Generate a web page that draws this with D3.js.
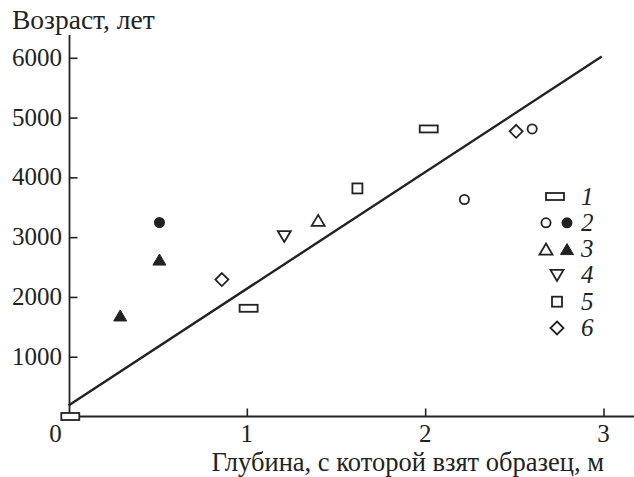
<!DOCTYPE html>
<html><head><meta charset="utf-8">
<script src="https://cdn.jsdelivr.net/npm/d3@7"></script>
<style>body{margin:0;background:#fff}text{font-family:"Liberation Serif","Times New Roman",serif;fill:#222}</style>
</head><body>
<svg id="c" width="634" height="477"></svg>
<script>
// data
const xTicks = [1, 2, 3];
const yTicks = [1000, 2000, 3000, 4000, 5000, 6000];
const series1 = [[0.01, 0], [1.01, 1810], [2.02, 4810]];          // rectangles
const series2open = [[2.22, 3630], [2.60, 4810]];                  // open circles
const series2fill = [[0.51, 3245]];                                 // filled circle
const series3open = [[1.40, 3280]];                                 // open triangle
const series3fill = [[0.51, 2625], [0.29, 1690]];                   // filled triangles
const series4 = [[1.21, 3010]];                                     // inverted triangle
const series5 = [[1.62, 3815]];                                     // squares
const series6 = [[0.86, 2290], [2.51, 4770]];                       // diamonds
const trend = [[0, 185], [2.99, 6020]];
const legendLabels = ["1", "2", "3", "4", "5", "6"];
const xTitle = "Глубина, с которой взят образец, м";
const yTitle = "Возраст, лет";

const svg = d3.select("#c");
const col = "#222";
const x = d3.scaleLinear().domain([0, 3]).range([68.5, 603.5]);
const y = d3.scaleLinear().domain([0, 6000]).range([416.5, 57.8]);

// axes
const gx = svg.append("g").attr("transform", `translate(0,${y(0)})`)
  .call(d3.axisTop(x).tickValues(xTicks).tickSize(8).tickFormat(""));
gx.select(".domain").remove();
gx.selectAll("line").attr("stroke", col).attr("stroke-width", 1.6);
svg.append("line").attr("x1", x(0)).attr("x2", 634).attr("y1", y(0)).attr("y2", y(0))
  .attr("stroke", col).attr("stroke-width", 1.8);
svg.selectAll(".xl").data(xTicks).enter().append("text")
  .attr("x", d => x(d)).attr("y", 442).attr("text-anchor", "middle")
  .attr("font-size", 25).text(d => d);
svg.append("text").attr("x", x(0) - 13).attr("y", 442).attr("text-anchor", "middle")
  .attr("font-size", 25).text("0");

const gy = svg.append("g").attr("transform", `translate(${x(0) + 1},0)`)
  .call(d3.axisRight(y).tickValues(yTicks).tickSize(8).tickFormat(""));
gy.select(".domain").remove();
gy.selectAll("line").attr("stroke", col).attr("stroke-width", 1.6);
svg.append("line").attr("x1", x(0) + 1).attr("x2", x(0) + 1).attr("y1", 35).attr("y2", y(0))
  .attr("stroke", col).attr("stroke-width", 1.8);
svg.selectAll(".yl").data(yTicks).enter().append("text")
  .attr("x", 62).attr("y", d => y(d) + 8).attr("text-anchor", "end")
  .attr("font-size", 25).text(d => d);

svg.append("text").attr("x", 12).attr("y", 29).attr("font-size", 27.5).text(yTitle);
svg.append("text").attr("x", 604).attr("y", 471).attr("text-anchor", "end").attr("font-size", 26.5).text(xTitle);

// trend line
svg.append("path").datum(trend)
  .attr("d", d3.line().x(d => x(d[0])).y(d => y(d[1])))
  .attr("stroke", col).attr("stroke-width", 2.4).attr("fill", "none");

// marker drawers
function rect(g, cx, cy) { g.append("rect").attr("x", cx - 9).attr("y", cy - 3.5).attr("width", 18).attr("height", 7)
  .attr("fill", "#fff").attr("stroke", col).attr("stroke-width", 1.8); }
function circ(g, cx, cy, filled) { g.append("circle").attr("cx", cx).attr("cy", cy).attr("r", filled ? 5.5 : 4.6)
  .attr("fill", filled ? col : "#fff").attr("stroke", col).attr("stroke-width", filled ? 0 : 1.8); }
function tri(g, cx, cy, filled, down) {
  const s = 6.5, h = 5.5;
  const pts = down ? [[cx - s, cy - h], [cx + s, cy - h], [cx, cy + h]] : [[cx - s, cy + h], [cx + s, cy + h], [cx, cy - h]];
  g.append("path").attr("d", d3.line()(pts) + "Z").attr("fill", filled ? col : "#fff")
   .attr("stroke", col).attr("stroke-width", filled ? 1 : 1.8).attr("stroke-linejoin", "miter");
}
function sq(g, cx, cy) { g.append("rect").attr("x", cx - 5).attr("y", cy - 5).attr("width", 10).attr("height", 10)
  .attr("fill", "#fff").attr("stroke", col).attr("stroke-width", 1.8); }
function dia(g, cx, cy) { const r = 6.5; g.append("path")
  .attr("d", d3.line()([[cx, cy - r], [cx + r, cy], [cx, cy + r], [cx - r, cy]]) + "Z")
  .attr("fill", "#fff").attr("stroke", col).attr("stroke-width", 1.8); }

const gm = svg.append("g");
series1.forEach(d => rect(gm, x(d[0]), y(d[1])));
series2open.forEach(d => circ(gm, x(d[0]), y(d[1]), false));
series2fill.forEach(d => circ(gm, x(d[0]), y(d[1]), true));
series3open.forEach(d => tri(gm, x(d[0]), y(d[1]), false, false));
series3fill.forEach(d => tri(gm, x(d[0]), y(d[1]), true, false));
series4.forEach(d => tri(gm, x(d[0]), y(d[1]), false, true));
series5.forEach(d => sq(gm, x(d[0]), y(d[1])));
series6.forEach(d => dia(gm, x(d[0]), y(d[1])));

// legend
const lg = svg.append("g");
const ly = i => 196.5 + i * 26.3;
rect(lg, 555, ly(0));
circ(lg, 546, ly(1), false); circ(lg, 567, ly(1), true);
tri(lg, 546, ly(2), false, false); tri(lg, 567, ly(2), true, false);
tri(lg, 557, ly(3), false, true);
sq(lg, 557, ly(4));
dia(lg, 557, ly(5));
lg.selectAll("text").data(legendLabels).enter().append("text")
  .attr("x", 581).attr("y", (d, i) => ly(i) + 8).attr("font-size", 25).attr("font-style", "italic").text(d => d);
</script>
</body></html>
